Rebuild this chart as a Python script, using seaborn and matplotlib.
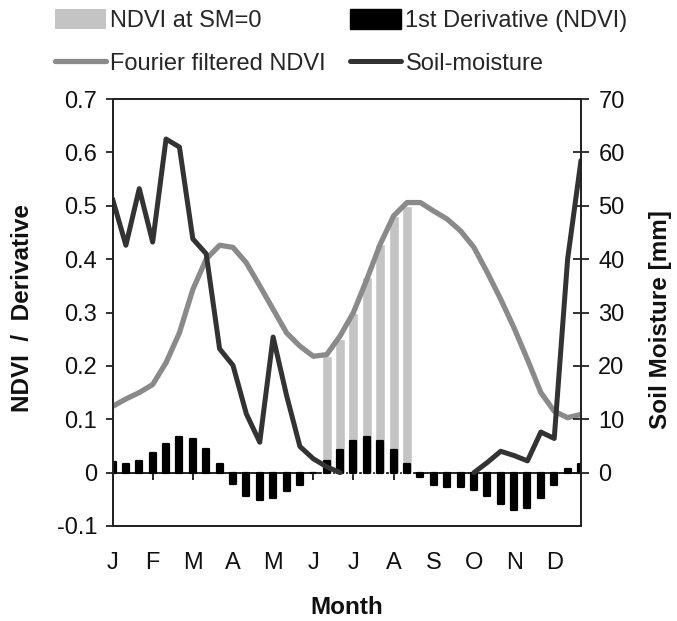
import numpy as np
import pandas as pd
import matplotlib
matplotlib.use("Agg")
import matplotlib.pyplot as plt
from matplotlib.patches import Patch
from matplotlib.lines import Line2D
import seaborn as sns

# Dekads of the year (3 per month) and month labels
dekad = list(range(36))
month_ticks = dekad[::3]
month_labels = ["J", "F", "M", "A", "M", "J", "J", "A", "S", "O", "N", "D"]

# Fourier filtered NDVI per dekad
fourier_ndvi = [0.124, 0.138, 0.150, 0.165, 0.206, 0.262, 0.343, 0.400, 0.426,
                0.422, 0.393, 0.350, 0.306, 0.262, 0.237, 0.218, 0.221, 0.256,
                0.300, 0.362, 0.428, 0.481, 0.506, 0.506, 0.490, 0.475, 0.453,
                0.422, 0.375, 0.325, 0.271, 0.212, 0.150, 0.115, 0.103, 0.109]

# First derivative of NDVI per dekad
ndvi_derivative = [0.019, 0.016, 0.021, 0.036, 0.053, 0.066, 0.063, 0.045, 0.017,
                   -0.021, -0.044, -0.051, -0.048, -0.034, -0.023, 0.000, 0.022, 0.042,
                   0.059, 0.066, 0.060, 0.042, 0.016, -0.008, -0.023, -0.026, -0.026,
                   -0.032, -0.044, -0.059, -0.070, -0.066, -0.047, -0.024, 0.006, 0.016]

# Soil moisture [mm] per dekad (no record while the soil is dry)
soil_moisture = [51.3, 42.6, 53.2, 43.2, 62.5, 61.0, 43.8, 41.0, 23.2,
                 20.1, 11.0, 5.7, 25.4, 14.5, 4.9, 2.6, 1.1, 0.0,
                 np.nan, np.nan, np.nan, np.nan, np.nan, np.nan, np.nan, np.nan, np.nan,
                 0.0, 1.9, 4.0, 3.2, 2.2, 7.6, 6.4, 40.0, 58.5]

# NDVI at the dekads where soil moisture is zero
sm0_dekad = [16, 17, 18, 19, 20, 21, 22]
ndvi_at_sm0 = [0.218, 0.251, 0.300, 0.366, 0.428, 0.480, 0.500]

ndvi_ticks = [-0.1, 0.0, 0.1, 0.2, 0.3, 0.4, 0.5, 0.6, 0.7]
ndvi_tick_labels = ["-0.1", "0", "0.1", "0.2", "0.3", "0.4", "0.5", "0.6", "0.7"]
sm_ticks = [0, 10, 20, 30, 40, 50, 60, 70]

sns.set_theme(style="white")
plt.rcParams["font.family"] = ["Liberation Sans", "DejaVu Sans"]
plt.rcParams["axes.unicode_minus"] = False

GRAY_BAR = "#c4c4c4"
FOURIER = "#8a8a8a"
SOIL = "#333333"
FS = 17

fig = plt.figure(figsize=(6.77, 6.21), dpi=100)
ax = fig.add_axes([112.5 / 677, 95 / 621, 468.5 / 677, 427 / 621])

# NDVI bars where soil moisture is zero
sns.barplot(x=sm0_dekad, y=ndvi_at_sm0, native_scale=True, width=0.75,
            color=GRAY_BAR, saturation=1, errorbar=None, ax=ax, zorder=1)

# First derivative bars
sns.barplot(x=dekad, y=ndvi_derivative, native_scale=True, width=0.45,
            color="black", saturation=1, errorbar=None, edgecolor="black",
            linewidth=1.6, joinstyle="round", ax=ax, zorder=3)

# Fourier filtered NDVI
sns.lineplot(x=dekad, y=fourier_ndvi, color=FOURIER, linewidth=3.8,
             solid_joinstyle="round", solid_capstyle="round",
             ax=ax, zorder=4, legend=False)

ax.set_xlim(0, 35)
ax.set_ylim(-0.1, 0.7)
ax.set_xticks(month_ticks, month_labels)
ax.set_yticks(ndvi_ticks, ndvi_tick_labels)
ax.set_xlabel("")
ax.set_ylabel("")
ax.tick_params(axis="x", bottom=True, length=0, pad=19, labelsize=FS, colors="#111111")
ax.tick_params(axis="y", left=True, direction="out", length=5, width=1.2,
               pad=6, labelsize=FS, colors="#111111")
for sp in ax.spines.values():
    sp.set_color("#222222")
    sp.set_linewidth(1.3)

# Zero line with month ticks
zero_axis = ax.secondary_xaxis(0.125)
zero_axis.set_xticks(month_ticks, [""] * len(month_ticks))
zero_axis.tick_params(axis="x", bottom=True, direction="out", length=5, width=1.2, color="black")
zero_axis.spines["bottom"].set_color("black")
zero_axis.spines["bottom"].set_linewidth(1.2)

# Soil moisture on the right axis, broken where there is no record
ax2 = ax.twinx()
df_sm = pd.DataFrame({"dekad": dekad, "sm": soil_moisture})
df_sm["segment"] = df_sm["sm"].isna().cumsum()
sns.lineplot(data=df_sm.dropna(), x="dekad", y="sm", units="segment", estimator=None,
             color=SOIL, linewidth=3.6, solid_joinstyle="round", solid_capstyle="round",
             ax=ax2, legend=False)
ax2.set_xlim(0, 35)
ax2.set_ylim(-10, 70)
ax2.set_yticks(sm_ticks)
ax2.set_ylabel("")
ax2.tick_params(axis="y", right=True, direction="inout", length=11, width=1.2,
                pad=7, labelsize=FS, colors="#111111")
for sp in ax2.spines.values():
    sp.set_color("#222222")
    sp.set_linewidth(1.3)

# Axis titles
fig.text(23 / 677, 1 - 308 / 621, "NDVI  /  Derivative", rotation=90,
         ha="center", va="center", fontsize=17.5, fontweight="bold", color="#111111")
fig.text(660 / 677, 1 - 320 / 621, "Soil Moisture [mm]", rotation=90,
         ha="center", va="center", fontsize=17.5, fontweight="bold", color="#111111")
fig.text(347 / 677, 1 - 607 / 621, "Month", ha="center", va="center",
         fontsize=17.5, fontweight="bold", color="#111111")

# Legend in two columns
col1 = [Patch(facecolor=GRAY_BAR, edgecolor="none"),
        Line2D([], [], color=FOURIER, linewidth=3.8, solid_capstyle="round")]
col2 = [Patch(facecolor="black", edgecolor="black"),
        Line2D([], [], color=SOIL, linewidth=3.6, solid_capstyle="round")]
common = dict(loc="upper left", frameon=False, fontsize=FS, borderpad=0,
              borderaxespad=0, handlelength=2.15, handleheight=0.95,
              handletextpad=0.2, labelspacing=0.84)
fig.legend(col1, ["NDVI at SM=0", "Fourier filtered NDVI"],
           bbox_to_anchor=(55 / 677, 1 - 9 / 621), **common)
fig.legend(col2, ["1st Derivative (NDVI)", "Soil-moisture"],
           bbox_to_anchor=(350 / 677, 1 - 9 / 621), **common)

fig.savefig("out.png", dpi=100)
